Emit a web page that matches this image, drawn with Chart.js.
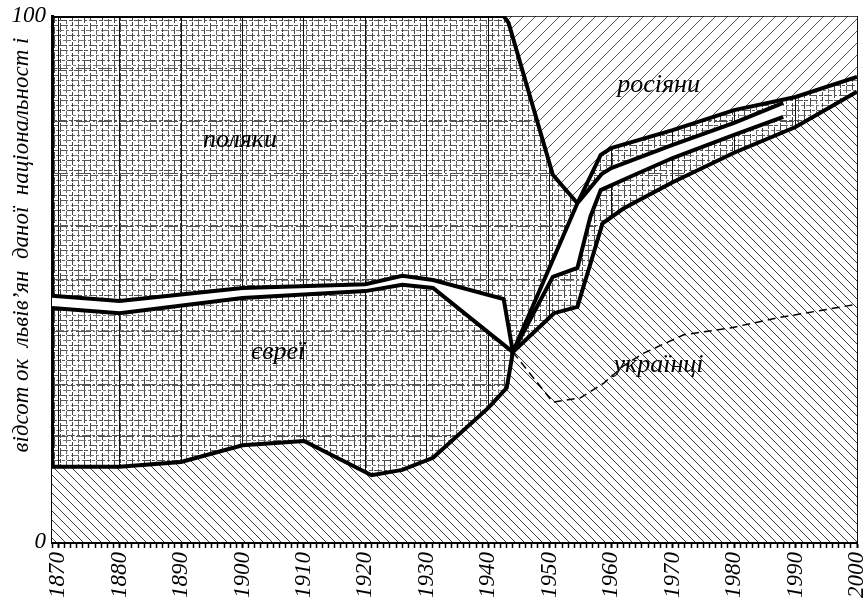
<!DOCTYPE html>
<html>
<head>
<meta charset="utf-8">
<script src="https://cdn.jsdelivr.net/npm/chart.js@4"></script>
<style>
  body { margin: 0; background: #fff; }
  #wrap { width: 863px; height: 601px; }
</style>
</head>
<body>
<div id="wrap"><canvas id="displayGraph" width="863" height="601"></canvas></div>
<script>
//************************************************ Données ***********************************************************************

// limite haute des ukrainiens (ligne du bas)
const ukrYears = [1869, 1880, 1890, 1900, 1910, 1921, 1926, 1931, 1940, 1943, 1944, 1950.7, 1954.5, 1958.6, 1962, 1970, 1980, 1990, 2000]
const ukrValues = [14.3, 14.3, 15.2, 18.4, 19.2, 12.7, 13.7, 16.0, 25.5, 29.3, 36.1, 43.5, 44.7, 60.6, 63.4, 68.4, 74.0, 78.9, 85.6]

// limite haute des juifs (ligne du milieu)
const jewYears = [1869, 1880, 1900, 1920, 1926, 1931, 1944, 1950.5, 1954.5, 1956.6, 1958.3, 1963, 1970, 1980, 1988]
const jewValues = [44.5, 43.5, 46.4, 47.7, 48.9, 48.3, 36.1, 50.4, 52.1, 61.8, 66.9, 69.4, 73.0, 77.4, 80.8]

// limite haute des "autres" (zone blanche)
const otherYears = [1869, 1880, 1900, 1920, 1926, 1931, 1942.5, 1944, 1954.5, 1958.5, 1960, 1970, 1980, 1988]
const otherValues = [46.8, 45.8, 48.3, 49.0, 50.6, 49.8, 46.2, 36.1, 64.4, 70.0, 71.1, 75.5, 79.7, 83.5]

// limite basse des russes (= haut des polonais)
const rusYears = [1869, 1942.5, 1943.3, 1950.5, 1954.5, 1958.3, 1960, 1970, 1980, 1990, 2000]
const rusValues = [100, 100, 98.7, 69.8, 64.4, 73.6, 74.9, 78.3, 82.1, 84.6, 88.4]

// ligne pointillée dans la zone ukrainienne
const dashYears = [1944, 1950.5, 1955, 1958.8, 1962, 1965.3, 1971.8, 1979.4, 1987, 2000]
const dashValues = [36.1, 26.6, 27.4, 30.2, 33.5, 35.9, 39.4, 40.7, 42.6, 45.2]

const topYears = [1869, 2000]
const topValues = [100, 100]

const decadeLabels = [1870, 1880, 1890, 1900, 1910, 1920, 1930, 1940, 1950, 1960, 1970, 1980, 1990, 2000]
const yTickLabels = [0, 100]

// étiquettes des zones (année, pourcentage)
const zoneNames = ['поляки', 'євреї', 'українці', 'росіяни']
const zoneYears = [1899.6, 1905.8, 1967.7, 1967.7]
const zoneValues = [76.4, 36.1, 33.6, 86.9]

const Y_TITLE = 'відсот ок  львів\u2019ян  даної  національност і'
const SERIF = '"Liberation Serif", "DejaVu Serif", serif'

//************************************************ Motifs de remplissage **********************************************************

function makeHatch(size, dir, color, bg) {
  const c = document.createElement('canvas')
  c.width = size
  c.height = size
  const g = c.getContext('2d')
  if (bg) { g.fillStyle = bg; g.fillRect(0, 0, size, size) }
  g.strokeStyle = color
  g.lineWidth = 1
  g.beginPath()
  if (dir === 'down') {
    g.moveTo(-2, -2); g.lineTo(size + 2, size + 2)
  } else {
    g.moveTo(-2, size + 2); g.lineTo(size + 2, -2)
  }
  g.stroke()
  return g.createPattern(c, 'repeat')
}

// petite grille "papier millimétré" pour les polonais / juifs
function makeGrid() {
  const w = 30, h = 25
  const c = document.createElement('canvas')
  c.width = w
  c.height = h
  const g = c.getContext('2d')
  g.fillStyle = '#fff'
  g.fillRect(0, 0, w, h)
  g.lineWidth = 1
  for (let i = 0; i < 5; i++) {
    g.strokeStyle = i % 2 ? '#666' : '#444'
    g.setLineDash([7, 2, 4, 1])
    g.lineDashOffset = i * 3
    g.beginPath(); g.moveTo(i * 6 + 0.5, 0); g.lineTo(i * 6 + 0.5, h); g.stroke()
    g.strokeStyle = i % 2 ? '#777' : '#555'
    g.setLineDash([8, 2, 3, 2])
    g.lineDashOffset = i * 4
    g.beginPath(); g.moveTo(0, i * 5 + 0.5); g.lineTo(w, i * 5 + 0.5); g.stroke()
  }
  return g.createPattern(c, 'repeat')
}

const gridBackground = {
  id: 'gridBackground',
  beforeDraw(chart, args, opts) {
    const a = chart.chartArea
    const ctx = chart.ctx
    ctx.save()
    ctx.fillStyle = opts.pattern
    ctx.fillRect(a.left, a.top, a.right - a.left, a.bottom - a.top)
    ctx.restore()
  }
}

// noms des zones + titre de l'axe y
const zoneLabels = {
  id: 'zoneLabels',
  afterDraw(chart) {
    const ctx = chart.ctx
    const x = chart.scales.x
    const y = chart.scales.y
    ctx.save()
    ctx.fillStyle = '#000'
    ctx.textAlign = 'center'
    ctx.textBaseline = 'middle'
    ctx.font = 'italic 26px ' + SERIF
    for (let i = 0; i < zoneNames.length; i++) {
      ctx.fillText(zoneNames[i], x.getPixelForValue(zoneYears[i]), y.getPixelForValue(zoneValues[i]))
    }
    ctx.translate(22, 245)
    ctx.rotate(-Math.PI / 2)
    ctx.font = 'italic 23px ' + SERIF
    ctx.fillText(Y_TITLE, 0, 0)
    ctx.restore()
  }
}

function pts(xs, ys) {
  return xs.map((v, i) => ({ x: v, y: ys[i] }))
}

//************************************************ Graphe *************************************************************************

let chart

document.addEventListener('DOMContentLoaded', function () {
  const ukrPattern = makeHatch(9, 'down', '#3c3c3c', '#fff')
  const rusPattern = makeHatch(12, 'up', '#555', '#fff')
  const gridPattern = makeGrid()

  const lineStyle = { borderColor: '#000', borderWidth: 4, pointRadius: 0, tension: 0 }

  const DATA = {
    datasets: [
      { label: 'dash', data: pts(dashYears, dashValues), borderColor: '#000', borderWidth: 1.5, borderDash: [8, 5], pointRadius: 0, fill: false },
      { label: 'українці', data: pts(ukrYears, ukrValues), ...lineStyle, fill: 'origin', backgroundColor: ukrPattern },
      { label: 'євреї', data: pts(jewYears, jewValues), ...lineStyle, fill: false },
      { label: 'інші', data: pts(otherYears, otherValues), ...lineStyle, fill: { target: 2 }, backgroundColor: '#fff' },
      { label: 'поляки', data: pts(rusYears, rusValues), ...lineStyle, fill: false },
      { label: 'росіяни', data: pts(topYears, topValues), borderColor: '#000', borderWidth: 1.5, pointRadius: 0, fill: { target: 4 }, backgroundColor: rusPattern }
    ]
  }

  const config = {
    type: 'line',
    data: DATA,
    options: {
      responsive: false,
      animation: false,
      devicePixelRatio: 1,
      layout: { padding: { top: 16, right: 0, bottom: 0, left: 0 } },
      plugins: {
        legend: { display: false },
        tooltip: { enabled: false },
        gridBackground: { pattern: gridPattern }
      },
      scales: {
        x: {
          type: 'linear',
          min: 1869,
          max: 2000,
          z: 1,
          border: { display: true, color: '#000', width: 3 },
          grid: {
            color: c => (c.tick && c.tick.value % 10 === 0) ? '#111' : 'rgba(0,0,0,0)',
            lineWidth: 1,
            tickColor: '#000',
            tickWidth: c => (c.tick && c.tick.value % 10 === 0) ? 2 : 1.5,
            tickLength: 6
          },
          ticks: {
            stepSize: 1,
            autoSkip: false,
            minRotation: 90,
            maxRotation: 90,
            padding: 4,
            color: '#000',
            font: { family: SERIF, style: 'italic', size: 23 },
            callback: v => decadeLabels.includes(v) ? String(v) : ''
          },
          afterFit(scale) {
            scale.height = 59
            scale.paddingRight = 6
            scale.paddingLeft = 0
          }
        },
        y: {
          min: 0,
          max: 100,
          z: 1,
          border: { display: true, color: '#000', width: 3, dash: [14, 3, 2, 3] },
          grid: {
            color: '#555',
            lineWidth: 1,
            drawTicks: false
          },
          ticks: {
            stepSize: 10,
            padding: 6,
            color: '#000',
            font: { family: SERIF, style: 'italic', size: 23 },
            callback: v => yTickLabels.includes(v) ? String(v) : ''
          },
          afterFit(scale) {
            scale.width = 52
            scale.paddingTop = 0
            scale.paddingBottom = 0
          }
        }
      }
    },
    plugins: [gridBackground, zoneLabels]
  }

  const DISPLAYGRAPH = document.getElementById('displayGraph')
  chart = new Chart(DISPLAYGRAPH, config)
})
</script>
</body>
</html>
